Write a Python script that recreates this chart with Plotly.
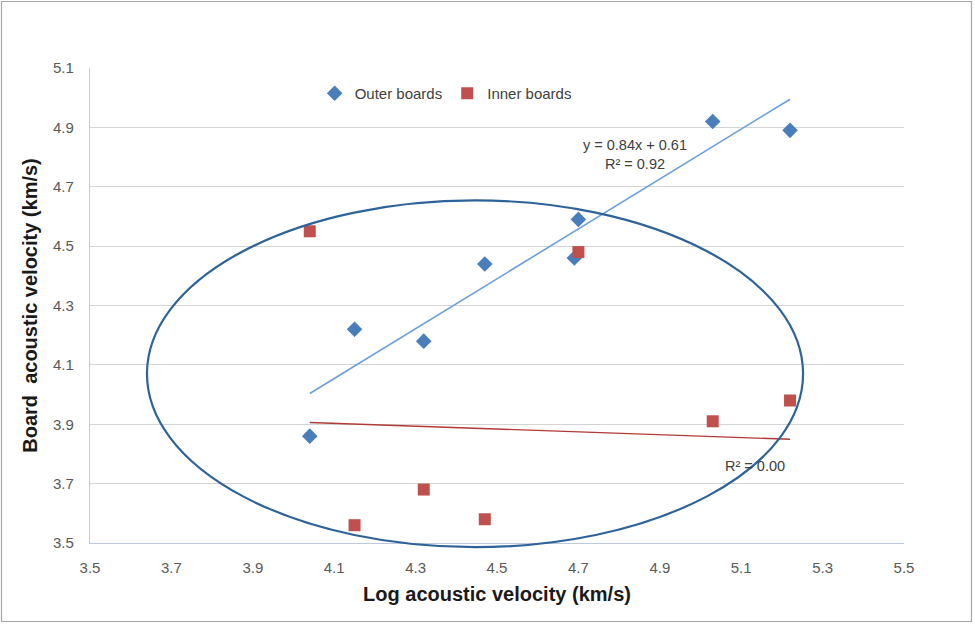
import plotly.graph_objects as go

# Log vs board acoustic velocity (km/s)
outer_x = [4.04, 4.15, 4.32, 4.47, 4.69, 4.70, 5.03, 5.22]
outer_y = [3.86, 4.22, 4.18, 4.44, 4.46, 4.59, 4.92, 4.89]
inner_x = [4.04, 4.15, 4.32, 4.47, 4.70, 5.03, 5.22]
inner_y = [4.55, 3.56, 3.68, 3.58, 4.48, 3.91, 3.98]

# Linear trend coefficients (slope, intercept) and R^2
outer_fit = [0.84, 0.61]
outer_r2 = 0.92
inner_fit = [-0.048, 4.10]
inner_r2 = 0.00

# Highlight ellipse (centre x, centre y, half-width, half-height) in data units
ellipse = [4.446, 4.07, 0.806, 0.584]

x_range = [3.5, 5.5]
y_range = [3.5, 5.1]
x_ticks = [3.5, 3.7, 3.9, 4.1, 4.3, 4.5, 4.7, 4.9, 5.1, 5.3, 5.5]
y_ticks = [3.5, 3.7, 3.9, 4.1, 4.3, 4.5, 4.7, 4.9, 5.1]

BLUE = "#4A7EBB"
RED = "#C0504D"
FAMILY = "Liberation Sans, Arial, sans-serif"
TICK_FONT = dict(family=FAMILY, size=15, color="#595959")


def trend(fit, xs):
    x0, x1 = min(xs), max(xs)
    return [x0, x1], [fit[0] * x0 + fit[1], fit[0] * x1 + fit[1]]


def px(x):
    return (x - x_range[0]) / (x_range[1] - x_range[0])


def py(y):
    return (y - y_range[0]) / (y_range[1] - y_range[0])


fig = go.Figure()

tx, ty = trend(outer_fit, outer_x)
fig.add_trace(go.Scatter(x=tx, y=ty, mode="lines", line=dict(color="#6A9FDB", width=1.6),
                         showlegend=False, hoverinfo="skip"))
tx, ty = trend(inner_fit, inner_x)
fig.add_trace(go.Scatter(x=tx, y=ty, mode="lines", line=dict(color="#B03A37", width=1.4),
                         showlegend=False, hoverinfo="skip"))

fig.add_trace(go.Scatter(x=outer_x, y=outer_y, mode="markers", name="Outer boards",
                         marker=dict(symbol="diamond", size=12, color=BLUE)))
fig.add_trace(go.Scatter(x=inner_x, y=inner_y, mode="markers", name="Inner boards",
                         marker=dict(symbol="square", size=12, color=RED)))

cx, cy, rx, ry = ellipse
fig.add_shape(type="circle", xref="paper", yref="paper",
              x0=px(cx - rx), x1=px(cx + rx), y0=py(cy - ry), y1=py(cy + ry),
              line=dict(color="#2E639A", width=2.2), layer="above")

# Figure frame
W, H = 975, 627
L, R, T, B = 90, 71, 68, 84
pw, ph = W - L - R, H - T - B
fig.add_shape(type="rect", xref="paper", yref="paper",
              x0=(1.5 - L) / pw, x1=(W - 3.5 - L) / pw,
              y0=-(B - 5.5) / ph, y1=1 + (T - 1.5) / ph,
              line=dict(color="#A6A6A6", width=1.2), layer="below")

ann_font = dict(family=FAMILY, size=14.5, color="#404040")
fig.add_annotation(x=4.84, y=4.81, xref="x", yref="y", showarrow=False, font=ann_font,
                   text=f"y = {outer_fit[0]:.2f}x + {outer_fit[1]:.2f}<br>R² = {outer_r2:.2f}",
                   align="center")
fig.add_annotation(x=5.134, y=3.76, xref="x", yref="y", showarrow=False, font=ann_font,
                   text=f"R² = {inner_r2:.2f}")

fig.update_layout(
    width=W, height=H,
    margin=dict(l=L, r=R, t=T, b=B),
    paper_bgcolor="white", plot_bgcolor="white",
    legend=dict(orientation="h", x=0.276, y=0.981, xanchor="left", yanchor="top",
                font=dict(family=FAMILY, size=15, color="#404040"),
                bgcolor="rgba(0,0,0,0)", itemwidth=30, tracegroupgap=0),
    xaxis=dict(range=x_range, tickvals=x_ticks, ticktext=[f"{v:.1f}" for v in x_ticks],
               showgrid=False, zeroline=False, showline=True, linecolor="#BCC9DA", linewidth=1.2,
               ticks="outside", ticklen=11, tickcolor="rgba(0,0,0,0)", tickfont=TICK_FONT,
               title=dict(text="<b>Log acoustic velocity (km/s)</b>", standoff=11,
                          font=dict(family=FAMILY, size=20, color="#1A1A1A"))),
    yaxis=dict(range=y_range, tickvals=y_ticks, ticktext=[f"{v:.1f}" for v in y_ticks],
               showgrid=True, gridcolor="#D4D4D4", gridwidth=1, zeroline=False,
               showline=True, linecolor="#BCCFE8", linewidth=1.2,
               ticks="outside", ticklen=12, tickcolor="rgba(0,0,0,0)", tickfont=TICK_FONT,
               title=dict(text="<b>Board  acoustic velocity (km/s)</b>", standoff=10,
                          font=dict(family=FAMILY, size=20, color="#1A1A1A"))),
)

fig.write_html("out.html")
